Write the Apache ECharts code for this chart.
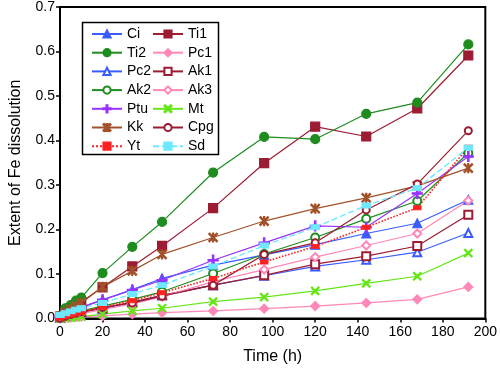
<!DOCTYPE html>
<html>
<head>
<meta charset="utf-8">
<script src="https://cdn.jsdelivr.net/npm/echarts@6/dist/echarts.min.js"></script>
<style>html,body{margin:0;padding:0;background:#fff}#c{width:500px;height:373px}</style>
</head>
<body>
<div id="c"></div>
<script>
const times = [0, 2.5, 5, 7.5, 10, 20, 34, 48, 72, 96, 120, 144, 168, 192];
const xTicks = [0, 20, 40, 60, 80, 100, 120, 140, 160, 180, 200];
const yTicks = [0.0, 0.1, 0.2, 0.3, 0.4, 0.5, 0.6, 0.7];

const Ci  = [0.003, 0.010, 0.016, 0.021, 0.025, 0.042, 0.065, 0.090, 0.120, 0.143, 0.166, 0.191, 0.214, 0.267];
const Ti1 = [0.004, 0.014, 0.022, 0.030, 0.037, 0.070, 0.117, 0.163, 0.248, 0.349, 0.431, 0.409, 0.472, 0.591];
const Ti2 = [0.006, 0.023, 0.030, 0.040, 0.047, 0.102, 0.161, 0.217, 0.328, 0.408, 0.403, 0.460, 0.485, 0.616];
const Pc1 = [0.000, 0.001, 0.002, 0.003, 0.004, 0.006, 0.010, 0.013, 0.017, 0.022, 0.028, 0.035, 0.043, 0.071];
const Pc2 = [0.002, 0.006, 0.009, 0.012, 0.014, 0.022, 0.036, 0.052, 0.075, 0.096, 0.117, 0.132, 0.149, 0.192];
const Ak1 = [0.002, 0.006, 0.009, 0.012, 0.014, 0.023, 0.037, 0.052, 0.075, 0.097, 0.122, 0.140, 0.163, 0.233];
const Ak2 = [0.002, 0.007, 0.011, 0.014, 0.017, 0.028, 0.043, 0.060, 0.101, 0.145, 0.182, 0.224, 0.264, 0.372];
const Ak3 = [0.001, 0.004, 0.007, 0.009, 0.011, 0.020, 0.033, 0.049, 0.083, 0.110, 0.138, 0.164, 0.191, 0.265];
const Ptu = [0.003, 0.010, 0.016, 0.021, 0.025, 0.042, 0.064, 0.086, 0.131, 0.170, 0.208, 0.205, 0.281, 0.364];
const Mt  = [0.000, 0.001, 0.002, 0.003, 0.004, 0.010, 0.017, 0.023, 0.038, 0.048, 0.062, 0.079, 0.095, 0.147];
const Kk  = [0.004, 0.013, 0.021, 0.028, 0.035, 0.071, 0.107, 0.144, 0.182, 0.219, 0.247, 0.271, 0.298, 0.338];
const Cpg = [0.001, 0.005, 0.009, 0.012, 0.015, 0.025, 0.035, 0.050, 0.075, 0.144, 0.170, 0.244, 0.302, 0.422];
const Yt  = [0.001, 0.005, 0.008, 0.011, 0.014, 0.025, 0.040, 0.058, 0.090, 0.127, 0.162, 0.205, 0.249, 0.385];
const Sd  = [0.008, 0.012, 0.016, 0.020, 0.023, 0.035, 0.055, 0.075, 0.117, 0.164, 0.205, 0.254, 0.293, 0.384];

const names1 = ['Ci', 'Ti2', 'Pc2', 'Ak2', 'Ptu', 'Kk', 'Yt'];
const names2 = ['Ti1', 'Pc1', 'Ak1', 'Ak3', 'Mt', 'Cpg', 'Sd'];

const BLUE = '#3a5cff', DRED = '#9b1c33', GREEN = '#1f8c1f', PINK = '#ff88b8',
      PURPLE = '#9a33ff', LGREEN = '#66e619', BROWN = '#a2522a', RED = '#ff2020', CYAN = '#6ee8ff';

const PLUS = 'path://M4.3,0H5.7V4.3H10V5.7H5.7V10H4.3V5.7H0V4.3H4.3Z';
const XS = 'path://M1,0L5,4L9,0L10,1L6,5L10,9L9,10L5,6L1,10L0,9L4,5L0,1Z';
const STAR = 'path://M1,0L5,4L9,0L10,1L6,5L10,9L9,10L5,6L1,10L0,9L4,5L0,1ZM4.4,0H5.6V10H4.4Z';

const styles = {
  Ci:  {c: BLUE,   s: 'triangle',      z: 9},
  Ti1: {c: DRED,   s: 'rect',          z: 9},
  Ti2: {c: GREEN,  s: 'circle',        z: 9},
  Pc1: {c: PINK,   s: 'diamond',       z: 9},
  Pc2: {c: BLUE,   s: 'emptyTriangle', z: 8},
  Ak1: {c: DRED,   s: 'emptyRect',     z: 8},
  Ak2: {c: GREEN,  s: 'emptyCircle',   z: 8},
  Ak3: {c: PINK,   s: 'emptyDiamond',  z: 8},
  Ptu: {c: PURPLE, s: PLUS,            z: 10},
  Mt:  {c: LGREEN, s: XS,              z: 8},
  Kk:  {c: BROWN,  s: STAR,            z: 9},
  Cpg: {c: DRED,   s: 'emptyCircle',   z: 7},
  Yt:  {c: RED,    s: 'rect',          z: [7, 4], t: 'dotted', w: 1.6},
  Sd:  {c: CYAN,   s: 'rect',          z: [8, 5], t: [6, 3], w: 1.4}
};
const dataMap = {Ci, Ti1, Ti2, Pc1, Pc2, Ak1, Ak2, Ak3, Ptu, Mt, Kk, Cpg, Yt, Sd};
const order = ['Ci','Ti1','Ti2','Pc1','Pc2','Ak1','Ak2','Ak3','Ptu','Mt','Kk','Cpg','Yt','Sd'];

const series = order.map(n => {
  const st = styles[n];
  return {
    name: n, type: 'line',
    data: times.map((t, i) => [t, dataMap[n][i]]),
    symbol: st.s, symbolSize: st.z, showSymbol: true,
    lineStyle: {color: st.c, width: st.w || 1.2, type: st.t || 'solid'},
    itemStyle: {color: st.c, borderColor: st.c, borderWidth: 1.2},
    animation: false
  };
});

const legendCommon = {
  orient: 'vertical', itemWidth: 30, itemHeight: 9, itemGap: 4.7,
  textStyle: {fontFamily: 'Liberation Sans', fontSize: 14, color: '#000', lineHeight: 14, fontWeight: 'normal'},
  selectedMode: false
};

const chart = echarts.init(document.getElementById('c'), null, {renderer: 'canvas'});
chart.setOption({
  animation: false,
  grid: {left: 58, top: 6, right: 12, bottom: 54.5, show: true, borderColor: '#000', borderWidth: 2},
  xAxis: {
    type: 'value', min: xTicks[0], max: xTicks[xTicks.length - 1], interval: 20,
    name: 'Time (h)', nameLocation: 'middle', nameGap: 30,
    nameTextStyle: {fontFamily: 'Liberation Sans', fontSize: 16, color: '#000', fontWeight: 'normal'},
    axisLine: {lineStyle: {color: '#000', width: 2}},
    axisTick: {show: true, length: 4, lineStyle: {color: '#000', width: 1.5}},
    axisLabel: {fontFamily: 'Liberation Sans', fontSize: 14, color: '#000', margin: 7, fontWeight: 'normal'},
    splitLine: {show: false}
  },
  yAxis: {
    type: 'value', min: yTicks[0], max: yTicks[yTicks.length - 1], interval: 0.1,
    name: 'Extent of Fe dissolution', nameLocation: 'middle', nameGap: 36,
    nameTextStyle: {fontFamily: 'Liberation Sans', fontSize: 16, color: '#000', fontWeight: 'normal'},
    axisLine: {lineStyle: {color: '#000', width: 2}},
    axisTick: {show: true, length: 4, lineStyle: {color: '#000', width: 1.5}},
    axisLabel: {fontFamily: 'Liberation Sans', fontSize: 14, color: '#000', margin: 5, fontWeight: 'normal',
      formatter: v => v.toFixed(1)},
    splitLine: {show: false}
  },
  legend: [
    Object.assign({}, legendCommon, {data: names1, left: 86, top: 22}),
    Object.assign({}, legendCommon, {data: names2, left: 147, top: 22})
  ],
  graphic: [{
    type: 'rect', left: 80, top: 20, z: 100,
    shape: {width: 136, height: 132},
    style: {fill: 'none', stroke: '#000', lineWidth: 1.5}
  }],
  series: series
});
</script>
</body>
</html>
